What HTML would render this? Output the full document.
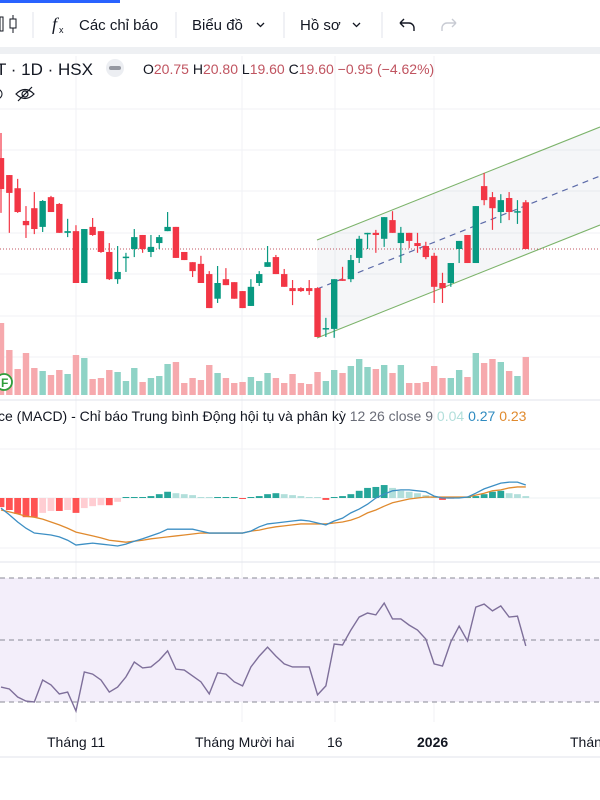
<!DOCTYPE html>
<html><head><meta charset="utf-8"><style>
html,body{margin:0;padding:0;background:#fff;width:600px;height:800px;overflow:hidden;font-family:"Liberation Sans","Noto Sans CJK SC",sans-serif}
svg{display:block}
</style></head><body>
<svg id="c" width="600" height="800" viewBox="0 0 600 800">
  <rect x="0" y="0" width="600" height="800" fill="#fff"/>
  <rect x="0" y="0" width="120" height="3" fill="#2962ff"/>
  <g font-size="15" fill="#131722">
    <g><rect x="0" y="17" width="3" height="14" fill="none" stroke="#131722"/><line x1="13" y1="15" x2="13" y2="33" stroke="#131722"/><rect x="10" y="19" width="6" height="9" fill="#fff" stroke="#131722"/></g>
    <line x1="33" y1="12" x2="33" y2="38" stroke="#e0e3eb"/>
    <g><text x="52" y="30" font-style="italic" font-family="Liberation Serif" font-size="18">f</text><text x="59" y="33" font-size="9">x</text><text x="79" y="30">Các chỉ báo</text></g>
    <line x1="176" y1="12" x2="176" y2="38" stroke="#e0e3eb"/>
    <g><text x="192" y="30">Biểu đồ</text><path d="M257 23l3.5 3.5 3.5-3.5" fill="none" stroke="#131722" stroke-width="1.3"/></g>
    <line x1="284" y1="12" x2="284" y2="38" stroke="#e0e3eb"/>
    <g><text x="300" y="30">Hồ sơ</text><path d="M353 23l3.5 3.5 3.5-3.5" fill="none" stroke="#131722" stroke-width="1.3"/></g>
    <line x1="382" y1="12" x2="382" y2="38" stroke="#e0e3eb"/>
    <path d="M400 23h9a5 5 0 0 1 5 5v3M400 23l4-4M400 23l4 4" fill="none" stroke="#131722" stroke-width="1.4"/>
    <path d="M456 23h-9a5 5 0 0 0-5 5v3M456 23l-4-4M456 23l-4 4" fill="none" stroke="#c8cbd3" stroke-width="1.4"/>
  </g>
  <rect x="0" y="47" width="600" height="7" fill="#eef0f3"/>
  <g id="grid"></g>
  <g font-size="15">
    <text x="-4" y="75" fill="#131722" font-size="17">T · 1D · HSX</text>
    <circle cx="115" cy="68" r="9" fill="#eceef2"/>
    <rect x="109" y="66" width="12" height="4" rx="2" fill="#9598a1"/>
    <text x="143" y="74" font-size="14" fill="#131722">O<tspan fill="#c05460">20.75 </tspan>H<tspan fill="#c05460">20.80 </tspan>L<tspan fill="#c05460">19.60 </tspan>C<tspan fill="#c05460">19.60 −0.95 (−4.62%)</tspan></text>
    <g fill="none" stroke="#131722" stroke-width="1.2"><path d="M16 94q9-9 18 0q-9 9-18 0z"/><circle cx="25" cy="94" r="3"/><line x1="18" y1="101" x2="32" y2="87"/></g>
    <circle cx="-3" cy="94" r="5" fill="none" stroke="#131722"/>
  </g>
  <g id="price"></g>
  <g font-size="14">
    <text x="-2" y="421" fill="#131722">ce (MACD) - Chỉ báo Trung bình Động hội tụ và phân kỳ <tspan fill="#6a6d78">12 26 close 9</tspan> <tspan fill="#b2dfdb">0.04</tspan> <tspan fill="#2f8bc0">0.27</tspan> <tspan fill="#e08a2e">0.23</tspan></text>
  </g>
  <g id="macd"></g>
  <g id="rsi"></g>
  <g font-size="14" fill="#131722">
    <text x="47" y="747">Tháng 11</text>
    <text x="195" y="747">Tháng Mười hai</text>
    <text x="327" y="747">16</text>
    <text x="417" y="747" font-weight="bold">2026</text>
    <text x="570" y="747">Tháng</text>
  </g>
  <line x1="0" y1="757" x2="600" y2="757" stroke="#e0e3eb"/>
</svg>
<script>
// ---- price data (OHLC) ----
const opens  = [21.74,21.34,21.03,20.26,20.56,20.12,20.82,20.66,19.98,20.02,18.80,20.12,20.02,19.53,18.89,19.40,19.60,19.93,19.53,19.74,20.02,20.12,19.53,19.29,19.25,19.01,18.43,18.89,18.82,18.61,18.26,18.80,19.18,19.41,19.01,18.68,18.68,18.68,18.68,17.72,17.72,18.89,18.89,19.39,19.96,19.98,19.84,20.28,19.74,19.98,19.74,19.67,19.44,18.80,18.80,19.60,19.93,19.27,21.08,20.82,20.47,20.80,20.47,20.70];
const highs  = [22.33,21.34,21.25,20.61,20.94,20.75,20.85,20.68,20.31,20.16,20.07,20.33,20.02,19.74,19.67,19.51,20.07,19.93,19.93,19.93,20.47,20.12,19.53,19.29,19.44,19.08,19.20,19.15,18.82,18.61,18.89,19.08,19.67,19.46,19.13,18.87,18.70,18.87,18.70,17.98,18.89,19.18,19.46,19.91,19.98,20.05,20.35,20.49,20.12,19.98,19.98,19.77,19.51,19.04,19.27,19.79,19.93,20.61,21.39,20.94,20.89,20.94,20.75,20.75];
const lows   = [20.45,19.98,20.45,19.86,19.95,20.00,20.47,19.98,19.88,18.80,18.80,19.91,19.51,18.87,18.78,19.06,19.41,19.51,19.41,19.60,20.02,19.39,19.34,18.94,18.80,18.21,18.33,18.75,18.43,18.21,18.26,18.73,19.18,19.01,18.71,18.28,18.59,18.52,17.53,17.53,17.51,18.85,18.82,19.27,19.60,19.51,19.65,19.98,19.27,19.62,19.51,19.36,18.33,18.33,18.71,19.27,19.27,19.27,20.63,20.05,20.21,20.28,20.19,19.60];
const closes = [21.01,20.92,20.47,20.16,20.07,20.73,20.47,19.98,20.02,18.80,20.07,19.93,19.53,18.89,19.06,19.42,19.88,19.60,19.65,19.88,20.12,19.39,19.34,19.08,18.80,18.21,18.80,18.75,18.43,18.21,18.71,19.01,19.29,19.01,18.71,18.61,18.61,18.61,17.53,17.74,18.89,18.85,19.34,19.84,19.98,19.93,20.35,19.98,19.98,19.79,19.67,19.41,18.71,18.68,19.27,19.79,19.27,20.61,20.75,20.56,20.75,20.47,20.49,19.60];
const volumes = [72,45,26,42,27,24,20,25,21,40,37,16,17,25,23,14,27,13,17,19,31,33,12,17,15,30,22,17,12,13,18,14,22,17,12,21,12,11,23,14,25,22,29,36,28,26,30,22,30,12,12,13,29,17,17,25,18,42,32,36,33,24,19,38];
// ---- MACD data ----
const macdLine = [-0.21,-0.35,-0.5,-0.63,-0.73,-0.75,-0.77,-0.81,-0.88,-0.98,-0.96,-0.94,-0.96,-0.98,-1.0,-0.96,-0.9,-0.85,-0.79,-0.73,-0.65,-0.65,-0.65,-0.65,-0.69,-0.73,-0.73,-0.73,-0.73,-0.73,-0.69,-0.6,-0.54,-0.52,-0.5,-0.48,-0.46,-0.48,-0.52,-0.56,-0.48,-0.42,-0.31,-0.23,-0.13,0,0.08,0.15,0.17,0.17,0.15,0.13,0.04,0,0,0,0.02,0.1,0.19,0.25,0.31,0.33,0.33,0.27];
const signalLine = [-0.25,-0.29,-0.33,-0.38,-0.4,-0.44,-0.5,-0.56,-0.63,-0.71,-0.75,-0.79,-0.83,-0.88,-0.9,-0.92,-0.9,-0.88,-0.85,-0.83,-0.81,-0.79,-0.77,-0.75,-0.73,-0.73,-0.73,-0.73,-0.73,-0.73,-0.69,-0.67,-0.63,-0.6,-0.58,-0.56,-0.54,-0.54,-0.54,-0.54,-0.52,-0.5,-0.46,-0.4,-0.31,-0.25,-0.17,-0.1,-0.06,-0.02,0,0.02,0.02,0.02,0.02,0.02,0.02,0.06,0.1,0.15,0.17,0.21,0.23,0.23];
const histogram = [-0.19,-0.25,-0.33,-0.4,-0.4,-0.31,-0.27,-0.27,-0.25,-0.31,-0.21,-0.17,-0.15,-0.15,-0.08,0.02,0.02,0.02,0.04,0.08,0.13,0.1,0.08,0.06,0.02,0.01,0.01,0.01,0.01,-0.02,0.02,0.04,0.08,0.1,0.08,0.06,0.04,0.02,0.01,-0.04,0.02,0.04,0.08,0.15,0.21,0.23,0.27,0.21,0.15,0.13,0.1,0.06,0.02,-0.04,-0.02,0.01,0.02,0.04,0.08,0.13,0.15,0.1,0.08,0.04];
// ---- RSI data ----
const rsiValues = [34.8,34.2,31.6,30.3,30,37.1,35.5,32.6,33.2,27.1,39.7,39,37.1,33.2,34.8,38.1,42.9,41,41.3,43.5,46.5,40.6,40.3,38.4,36.5,32.6,39.4,39,36.5,35.2,41.3,44.8,47.7,44.8,42.3,41.3,41.3,41.3,32.3,35.2,48.7,48.4,53.2,57.4,58.7,58.1,61.9,56.8,56.8,54.8,53.2,50.3,42.3,41.6,49.4,54.5,49.7,60.6,61.6,59.4,61,57.4,57.7,48.1];
const rsiLevels = [70,50,30];
const lastClose = 19.60;

const NS='http://www.w3.org/2000/svg';
function mk(parent,tag,attrs){const e=document.createElementNS(NS,tag);for(const k in attrs)e.setAttribute(k,attrs[k]);parent.appendChild(e);return e;}
const xOf=i=>1+i*8.33;
const yP=p=>249-(p-19.6)*42.5;
const yV=v=>395-v;
const yM=v=>498-v*48;
const yR=v=>640-(v-50)*3.1;
const UP='#089981',DN='#f23645';

// grid
const grid=document.getElementById('grid');
[76,242,335,434].forEach(x=>{const l=mk(grid,'line',{x1:x,y1:56,x2:x,y2:722,stroke:'#f0f2f5'});

});
[109,150,191,233,274,316,357,449,548].forEach(y=>{const l=mk(grid,'line',{x1:0,y1:y,x2:600,y2:y,stroke:'#f0f2f5'});

});
[400,562].forEach(y=>{const l=mk(grid,'line',{x1:0,y1:y,x2:600,y2:y,stroke:'#e0e3eb'});

});

// price pane
const pg=document.getElementById('price');
const ch=mk(pg,'polygon',{points:'317,240 600,127 600,225 317,338',fill:'rgba(120,123,150,0.07)'});


const ct=mk(pg,'line',{x1:317,y1:240,x2:600,y2:127,stroke:'#7cb36a','stroke-width':1.1});


const cb=mk(pg,'line',{x1:317,y1:338,x2:600,y2:225,stroke:'#7cb36a','stroke-width':1.1});


const cm=mk(pg,'line',{x1:317,y1:289,x2:600,y2:176,stroke:'#5b6aa8','stroke-width':1.2,'stroke-dasharray':'6 5'});


const pl=mk(pg,'line',{x1:0,y1:yP(lastClose),x2:600,y2:yP(lastClose),stroke:'#c05460','stroke-width':1,'stroke-dasharray':'1 2'});


volumes.forEach((v,i)=>{const up=closes[i]>=opens[i];
const r=mk(pg,'rect',{x:xOf(i)-3.2,y:yV(v),width:6.4,height:v,fill:up?'#8fd3c6':'#f6a9ad'});

});
opens.forEach((o,i)=>{const c=closes[i],up=c>=o,col=up?UP:DN,x=xOf(i);
const w=mk(pg,'line',{x1:x,y1:yP(highs[i]),x2:x,y2:yP(lows[i]),stroke:col,'stroke-width':1.2});


const t=Math.min(yP(o),yP(c)),h=Math.max(1.5,Math.abs(yP(o)-yP(c)));
const b=mk(pg,'rect',{x:x-3.2,y:t,width:6.4,height:h,fill:col});

});
const fb=mk(pg,'circle',{cx:4,cy:382,r:8,fill:'#fff',stroke:'#2e9d3a','stroke-width':1.8});


const ft=mk(pg,'text',{x:1,y:387,'font-size':12,'font-weight':'bold',fill:'#2e9d3a'});ft.textContent='F';



// macd pane
const mg=document.getElementById('macd');
const z=mk(mg,'line',{x1:0,y1:yM(0),x2:600,y2:yM(0),stroke:'#eef0f3'});


histogram.forEach((v,i)=>{const prev=i?histogram[i-1]:0;let col;
if(v>=0)col=v>=prev?'#26a69a':'#b2dfdb';else col=v<=prev?'#ff5252':'#ffcdd2';
const h=Math.max(1,Math.abs(v*48));
const r=mk(mg,'rect',{x:xOf(i)-3.4,y:v>=0?yM(0)-h:yM(0),width:6.8,height:h,fill:col});

});
const sl=mk(mg,'polyline',{points:signalLine.map((v,i)=>xOf(i)+','+yM(v)).join(' '),fill:'none',stroke:'#e08a2e','stroke-width':1.3});


const ml=mk(mg,'polyline',{points:macdLine.map((v,i)=>xOf(i)+','+yM(v)).join(' '),fill:'none',stroke:'#3d8fc4','stroke-width':1.3});



// rsi pane
const rg=document.getElementById('rsi');
const bg=mk(rg,'rect',{x:0,y:yR(70),width:600,height:yR(30)-yR(70),fill:'#f3eefa'});


rsiLevels.forEach(l=>{const e=mk(rg,'line',{x1:0,y1:yR(l),x2:600,y2:yR(l),stroke:'#8a8a96','stroke-width':1.1,'stroke-dasharray':'5 4'});

});
const rl=mk(rg,'polyline',{points:rsiValues.map((v,i)=>xOf(i)+','+yR(v)).join(' '),fill:'none',stroke:'#7e6f9a','stroke-width':1.4});


</script>
</body></html>
